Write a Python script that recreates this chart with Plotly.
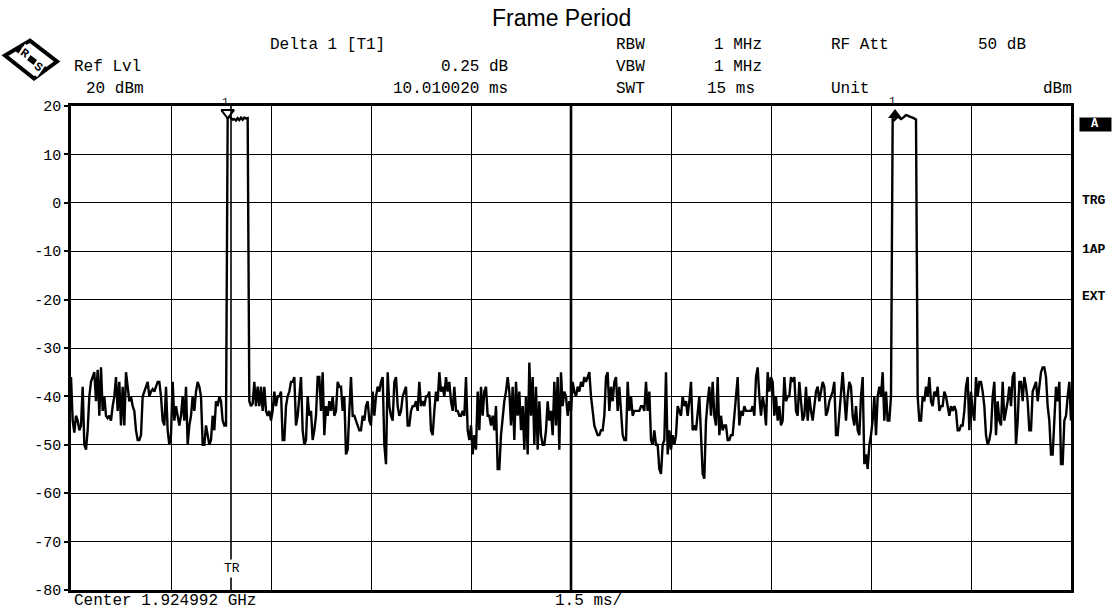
import numpy as np
import plotly.graph_objects as go

# ---------------- data ----------------
sweep_start_ms = 0.0
sweep_stop_ms = 15.0
div_ms = 1.5
y_top_dbm = 20
y_bottom_dbm = -80
y_tick_vals = [20, 10, 0, -10, -20, -30, -40, -50, -60, -70, -80]
y_tick_text = ["20", "10", "0", "-10", "-20", "-30", "-40", "-50", "-60", "-70", "-80"]

noise_before_burst1 = [
    -36, -45, -47.5, -44, -45, -47, -46, -38, -50, -51, -47, -40, -37, -36, -35, -41,
    -34.5, -44, -34, -43, -40, -44, -44.5, -44, -45, -42, -40, -36, -43, -37, -46, -38,
    -46, -35, -38, -41, -40, -42, -43, -47, -49, -49, -48, -40, -39, -38, -37, -40,
    -39, -38.5, -39, -38, -37, -37, -40, -45, -46, -38, -47, -50, -48, -37, -45, -42,
    -44, -46, -44, -40, -45, -38, -50, -46, -44, -40, -43, -39, -37, -38, -40, -50,
    -50, -46, -48, -50, -49, -44, -47, -41, -42, -40, -41, -45, -46, -46,
]
burst1 = [17.6, 17.8, 17.5, 17.2, 17.3, 17.0, 17.5, 17.1, 17.6, 17.2, 17.6, 17.4, 17.5]
noise_between_a = [
    -41, -42, -41.5, -37, -42, -38, -42, -38, -43, -38, -43, -44, -43, -45, -43, -39,
    -42, -40, -40, -39, -49, -49, -42, -40, -39, -37, -37, -36, -46, -44, -39, -36,
    -47, -50, -49, -40, -44, -43, -49, -47, -44, -36, -36, -43, -35, -48, -42, -44,
    -41, -43, -40, -44, -43, -37, -38, -38, -43, -40, -52, -51, -43, -36, -44, -44,
    -45, -46, -47, -47, -44, -45, -42, -41, -45, -46, -39, -44, -40, -38, -39,
]
noise_between_b = [
    -37, -36, -50, -54, -35, -42, -44, -45, -37, -36, -42, -44, -43, -40, -39, -38,
    -46, -46, -43, -42, -42, -41, -43, -37, -42, -41, -42, -40, -40, -39, -47, -48,
    -43, -39, -41, -35, -39, -38, -40, -36, -39, -37, -41, -43, -38, -43, -43, -44,
    -44, -43, -44, -36, -47, -49, -46, -52, -48, -51, -39, -47, -38, -44, -39, -38,
    -44, -44, -46, -44, -47, -42, -55, -55, -48, -44, -41, -39, -36, -39, -46, -38,
    -49, -37, -44, -39, -47, -42, -51, -40, -52, -33, -44, -36, -50, -38, -51, -41,
    -48, -50, -50, -47, -41, -45, -43, -48, -37, -46, -36, -51, -35, -42, -39, -40,
    -44, -41, -43, -37, -39, -40, -38, -39, -37, -38, -36, -37, -36, -35, -40, -43,
    -46, -47, -48, -48, -47, -47, -44, -36, -35, -43, -38, -41, -37, -36, -43, -38,
    -43, -48, -49, -49, -37, -43, -40, -44, -43, -43, -43, -43, -42, -42, -43, -37,
    -43, -39, -49, -50, -47, -50, -50, -55, -56, -50, -49, -35, -52, -47, -51, -48,
    -50, -48, -42, -43, -44, -40, -42, -41, -44, -41, -37, -47, -46, -47, -43, -40,
    -48, -56, -57, -45, -41, -38, -44, -37, -44, -46, -36, -48, -44, -47, -46, -46,
    -49, -49, -48, -48, -44, -39, -36, -46, -43, -44, -42, -43, -43, -43,
]
noise_between_c = [
    -43, -42, -44, -36, -34, -40, -44, -40, -42, -46, -35, -39, -36, -37, -44, -40,
    -45, -42, -46, -45, -36, -41, -40, -40, -36, -37, -36, -43, -44, -37, -41, -45,
    -44, -38, -45, -40, -43, -45, -42, -39, -38, -41, -39, -37, -38, -44, -43, -41,
    -40, -39, -37, -48, -48, -43, -39, -35, -40, -45, -40, -37, -38, -44, -46, -42,
    -47, -48, -40, -36, -54, -52, -55, -50, -48, -45, -40, -48, -40, -38, -40, -35,
    -45, -39, -45, -45, -40,
]
burst2 = [17.3, 17.1, 17.4, 17.8, 17.6, 17.3, 17.5, 17.9, 18.1, 18.0, 17.8, 17.7, 17.6, 17.4, 17.2]
noise_after_burst2 = [
    -40, -45, -45, -40, -41, -38, -40, -36, -41, -42, -39, -40, -38, -43, -42, -42,
    -39, -40, -42, -44, -42, -43, -42, -43, -47, -47, -46, -46, -43, -38, -36, -47,
    -39, -43, -45, -36, -40, -37, -37, -39, -42, -48, -50, -49, -47, -40, -37, -48,
    -41, -45, -46, -37, -45, -43, -41, -38, -42, -36, -35, -50, -45, -37, -37, -41,
    -36, -38, -41, -47, -47, -39, -38, -37, -41, -38, -35, -34, -34, -36, -42, -45,
    -52, -52, -44, -38, -41, -37, -54, -54, -45, -44, -40, -37, -45,
]

marker1_ms = 2.35
marker1_dbm = 17.6
delta_ms = 10.010020
delta_db = 0.25
trigger_ms = 2.4

level_dbm = (noise_before_burst1 + burst1 + noise_between_a + noise_between_b
             + noise_between_c + burst2 + noise_after_burst2)
# sweep points, evenly spaced over the sweep time
time_ms = np.linspace(sweep_start_ms, sweep_stop_ms, len(level_dbm))

# ---------------- figure ----------------
W, H = 1117, 612
L, R, T, B = 71, 1071.5, 105.5, 590


def px(x):
    return (x - L) / (R - L)


def py(y):
    return (B - y) / (B - T)


MONO = "Liberation Mono, Courier New, monospace"
fig = go.Figure()

fig.add_trace(go.Scatter(
    x=time_ms, y=level_dbm, mode="lines",
    line=dict(color="black", width=2.4), hoverinfo="skip", showlegend=False))

# markers
fig.add_trace(go.Scatter(
    x=[marker1_ms], y=[marker1_dbm + 1.0], mode="markers",
    marker=dict(symbol="triangle-down", size=11, color="white",
                line=dict(color="black", width=2)),
    showlegend=False, hoverinfo="skip", cliponaxis=False))
fig.add_trace(go.Scatter(
    x=[marker1_ms + delta_ms], y=[marker1_dbm + delta_db + 0.3], mode="markers",
    marker=dict(symbol="triangle-up", size=12, color="black"),
    showlegend=False, hoverinfo="skip", cliponaxis=False))

shapes = []
# centre grid line (thicker)
shapes.append(dict(type="line", xref="x", yref="paper",
                   x0=(sweep_start_ms + sweep_stop_ms) / 2, x1=(sweep_start_ms + sweep_stop_ms) / 2,
                   y0=0, y1=1, line=dict(color="black", width=2.6)))
# trigger line
shapes.append(dict(type="line", xref="x", yref="paper", x0=trigger_ms, x1=trigger_ms,
                   y0=0, y1=1, line=dict(color="black", width=1.6)))


# R&S logo (tilted square)
def poly_path(pts):
    return "M " + " L ".join(f"{px(a):.5f},{py(b):.5f}" for a, b in pts) + " Z"


shapes.append(dict(type="path", xref="paper", yref="paper",
                   path=poly_path([(5, 55), (30, 40), (57, 61), (34, 78)]),
                   line=dict(color="black", width=4), fillcolor="white"))
shapes.append(dict(type="line", xref="paper", yref="paper",
                   x0=px(17), y0=py(48), x1=px(46), y1=py(70),
                   line=dict(color="black", width=6)))
# "A" box at right
shapes.append(dict(type="rect", xref="paper", yref="paper",
                   x0=px(1080), x1=px(1112), y0=py(117), y1=py(131),
                   fillcolor="black", line=dict(width=0)))

ann = []


def txt(s, x, y, anchor="left", size=16, color="black", family=MONO, **kw):
    ann.append(dict(text=s, x=px(x), y=py(y), xref="paper", yref="paper",
                    xanchor=anchor, yanchor="middle", showarrow=False,
                    font=dict(family=family, size=size, color=color), **kw))


txt("Frame Period", 562, 17, anchor="center", size=23,
    family="Liberation Sans, Arial, sans-serif")
txt("<b>R</b>", 25, 53, anchor="center", size=12, textangle=35, bgcolor="white")
txt("<b>S</b>", 38, 66, anchor="center", size=12, textangle=35, bgcolor="white")
txt("Delta 1 [T1]", 268, 44)
txt("Ref Lvl", 72, 66)
txt("20 dBm", 84, 88)
txt(f"{delta_db:.2f} dB", 510, 66, anchor="right")
txt(f"{delta_ms:.6f} ms", 510, 88, anchor="right")
txt("RBW", 614, 44)
txt("VBW", 614, 66)
txt("SWT", 614, 88)
txt("1 MHz", 712, 44)
txt("1 MHz", 712, 66)
txt("15 ms", 705, 88)
txt("RF Att", 829, 44)
txt("Unit", 829, 88)
txt("50 dB", 976, 44)
txt("dBm", 1075, 88, anchor="right")
txt("1", 226, 101, anchor="center", size=11)
txt("1", 893, 100, anchor="center", size=11)
txt("<b>A</b>", 1096, 124, anchor="center", size=12, color="white")
txt("<b>TRG</b>", 1081, 200, size=13)
txt("<b>1AP</b>", 1081, 249, size=13)
txt("<b>EXT</b>", 1081, 296, size=13)
txt("TR", 232, 568, anchor="center", size=13, bgcolor="white")
txt("Center 1.924992 GHz", 72, 601)
txt(f"{div_ms} ms/", 553, 601)

fig.update_layout(
    width=W, height=H,
    margin=dict(l=L, r=W - R, t=T, b=H - B, pad=0),
    paper_bgcolor="white", plot_bgcolor="white",
    shapes=shapes, annotations=ann,
    xaxis=dict(range=[sweep_start_ms, sweep_stop_ms], tick0=sweep_start_ms, dtick=div_ms,
               showgrid=True, gridcolor="black", gridwidth=1.2,
               showticklabels=False, ticks="", zeroline=False,
               showline=True, linecolor="black", linewidth=2.6, mirror=True),
    yaxis=dict(range=[y_bottom_dbm, y_top_dbm], tickmode="array",
               tickvals=y_tick_vals, ticktext=y_tick_text,
               showgrid=True, gridcolor="black", gridwidth=1.2, zeroline=False,
               ticks="outside", ticklen=4, tickwidth=1.5, tickcolor="black",
               tickfont=dict(family=MONO, size=15, color="black"),
               showline=True, linecolor="black", linewidth=2.6, mirror=True),
)

fig.write_html("out.html",
               config={"displayModeBar": False},
               post_script="document.body.style.margin='0px';"
                           "document.body.style.overflow='hidden';")
